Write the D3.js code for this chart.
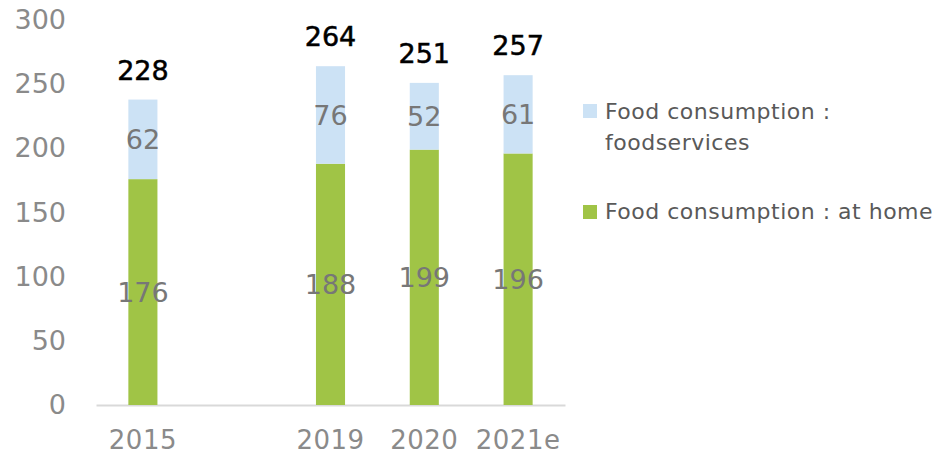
<!DOCTYPE html>
<html><head><meta charset="utf-8">
<script src="https://cdn.jsdelivr.net/npm/d3@7"></script>
<style>body{margin:0;background:#fff}svg{display:block}</style>
</head><body>
<svg id="c" width="942" height="456"></svg>
<script>
const categories = ["2015", "", "2019", "2020", "2021e"];
const atHome = [176, null, 188, 199, 196];
const foodservices = [62, null, 76, 52, 61];
const totals = [228, null, 264, 251, 257];
const yTicks = [0, 50, 100, 150, 200, 250, 300];
const seriesNames = ["Food consumption : foodservices", "Food consumption : at home"];

const svg = d3.select("#c");
const font = "DejaVu Sans, sans-serif";
const x = d3.scaleBand().domain(categories.map((d,i)=>i)).range([96, 565]).paddingInner(0.69).paddingOuter(0.345);
const y = d3.scaleLinear().domain([0, 300]).range([405, 20]);
const cGreen = "#a0c446", cBlue = "#cce2f5";

// y axis labels
const yAxis = d3.axisLeft(y).tickValues(yTicks).tickSize(0).tickPadding(0);
const ga = svg.append("g").attr("transform", "translate(66,0)").call(yAxis);
ga.select(".domain").remove();
ga.selectAll("text").attr("font-family", font).attr("font-size", 27).attr("fill", "#8a8a8a");

// x axis
const xAxis = d3.axisBottom(x).tickFormat(i => categories[i]).tickSize(0).tickPadding(0);
const gx = svg.append("g").attr("transform", "translate(0,405)").call(xAxis);
gx.select(".domain").attr("stroke", "#d9d9d9").attr("stroke-width", 2);
gx.selectAll("text").attr("font-family", font).attr("font-size", 26).attr("fill", "#8a8a8a").attr("dy", null).attr("y", 44).attr("letter-spacing", 0.5);

const idx = categories.map((d,i)=>i).filter(i => atHome[i] != null);

// bars
svg.append("g").selectAll("rect").data(idx).join("rect")
  .attr("x", i => x(i)).attr("width", x.bandwidth())
  .attr("y", i => y(atHome[i])).attr("height", i => y(0) - y(atHome[i]))
  .attr("fill", cGreen);
svg.append("g").selectAll("rect").data(idx).join("rect")
  .attr("x", i => x(i)).attr("width", x.bandwidth())
  .attr("y", i => y(atHome[i] + foodservices[i])).attr("height", i => y(atHome[i]) - y(atHome[i] + foodservices[i]))
  .attr("fill", cBlue);

// inner labels
const lab = svg.append("g").attr("font-family", font).attr("font-size", 27).attr("fill", "#777").attr("text-anchor", "middle");
lab.selectAll("text.h").data(idx).join("text").attr("class","h")
  .attr("x", i => x(i) + x.bandwidth()/2).attr("y", i => y(atHome[i]/2)).attr("dy", "0.36em").text(i => atHome[i]);
lab.selectAll("text.f").data(idx).join("text").attr("class","f")
  .attr("x", i => x(i) + x.bandwidth()/2).attr("y", i => y(atHome[i] + foodservices[i]/2)).attr("dy", "0.36em").text(i => foodservices[i]);

// totals
svg.append("g").attr("font-family", font).attr("font-size", 27).attr("fill", "#000").attr("text-anchor", "middle")
  .attr("stroke", "#000").attr("stroke-width", 0.5)
  .selectAll("text").data(idx).join("text")
  .attr("x", i => x(i) + x.bandwidth()/2).attr("y", i => y(atHome[i] + foodservices[i]) - 20).text(i => totals[i]);

// legend
const lg = svg.append("g").attr("font-family", font).attr("font-size", 22).attr("fill", "#595959").attr("letter-spacing", 0.5);
lg.append("rect").attr("x", 583).attr("y", 104).attr("width", 14).attr("height", 14).attr("fill", cBlue);
lg.append("text").attr("x", 605).attr("y", 119).text("Food consumption :");
lg.append("text").attr("x", 605).attr("y", 150).text("foodservices");
lg.append("rect").attr("x", 583).attr("y", 205).attr("width", 14).attr("height", 14).attr("fill", cGreen);
lg.append("text").attr("x", 605).attr("y", 219).text(seriesNames[1]);
</script>
</body></html>
